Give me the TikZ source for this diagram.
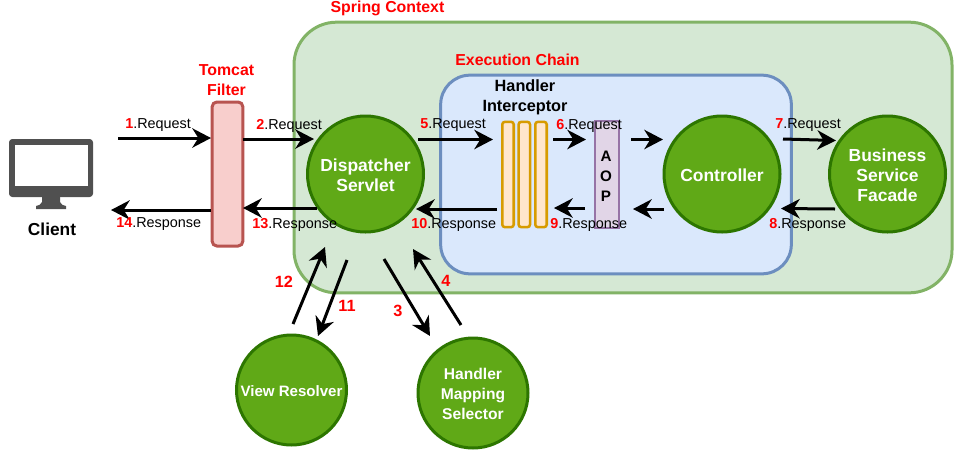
\documentclass[tikz,border=0pt]{standalone}
\usepackage{fontspec}
\setmainfont{Liberation Sans}
\usetikzlibrary{arrows.meta}
\definecolor{ctxfill}{HTML}{D5E8D4}\definecolor{ctxline}{HTML}{82B366}
\definecolor{chainfill}{HTML}{DAE8FC}\definecolor{chainline}{HTML}{6C8EBF}
\definecolor{filterfill}{HTML}{F8CECC}\definecolor{filterline}{HTML}{B85450}
\definecolor{barfill}{HTML}{FFE6CC}\definecolor{barline}{HTML}{D79B00}
\definecolor{aopfill}{HTML}{E1D5E7}\definecolor{aopline}{HTML}{9673A6}
\definecolor{circfill}{HTML}{60A917}\definecolor{circline}{HTML}{2D7600}
\definecolor{mon}{HTML}{505050}
\tikzset{
 x=0.75pt,y=-0.75pt,
 flow/.style={draw=black,line width=2.25pt,-{Stealth[length=14pt,width=14.5pt,inset=4.5pt]}},
 svc/.style={circle,draw=circline,fill=circfill,line width=2.25pt,minimum size=87pt,inner sep=0pt},
 svcs/.style={svc,minimum size=82.5pt},
 svct/.style={inner sep=0pt,align=center,text=white,yshift=-0.75pt,font=\fontsize{13.1}{15}\selectfont\bfseries},
 svcts/.style={svct,font=\fontsize{11.7}{15}\selectfont\bfseries},
 vbar/.style={draw=barline,fill=barfill,line width=1.9pt,rounded corners=2pt,minimum width=8.6pt,minimum height=79pt,inner sep=0pt},
 lbl/.style={inner sep=0pt,font=\fontsize{10.8}{12}\selectfont,text=black},
 num/.style={inner sep=0pt,font=\fontsize{12.2}{13}\selectfont\bfseries,text=red},
 head/.style={inner sep=0pt,align=center,font=\fontsize{11.9}{15}\selectfont\bfseries,text=red},
 blk/.style={inner sep=0pt,align=center,font=\fontsize{12.2}{15}\selectfont\bfseries,text=black},
}
\newcommand{\nm}[1]{\textcolor{red}{\bfseries #1}}
\begin{document}
\begin{tikzpicture}
\useasboundingbox (0,0) rectangle (972,458);
\fill[white] (0,0) rectangle (972,458);
% containers
\node[draw=ctxline,fill=ctxfill,line width=2.25pt,rounded corners=32pt,minimum width=493.5pt,minimum height=203pt,inner sep=0pt] (ctx) at (623,157.5) {};
\node[draw=chainline,fill=chainfill,line width=2.25pt,rounded corners=22pt,minimum width=263pt,minimum height=149pt,inner sep=0pt] (chain) at (616,174.5) {};
\node[head] (ctxt) at (387.5,8.5) {Spring Context};
\node[head] (chaint) at (517.5,60) {Execution Chain};
% filter
\node[draw=filterline,fill=filterfill,line width=2.25pt,rounded corners=3.5pt,minimum width=23pt,minimum height=108pt,inner sep=0pt] (filter) at (227.5,174) {};
\node[head] (filtert) at (226.5,80.5) {Tomcat\\Filter};
% client icon
\fill[mon,rounded corners=2.5pt] (9,139) rectangle (93,197);
\fill[white] (15,145) rectangle (88,186);
\fill[mon] (42,197) -- (60,197) -- (60,202) .. controls (61,205) and (63,205) .. (66,206) -- (66,209) -- (36,209) -- (36,206) .. controls (39,205) and (41,205) .. (42,202) -- cycle;
\node[blk,font=\fontsize{13}{15}\selectfont\bfseries] (client) at (52,229) {Client};
% services
\node[svc,label={[svct]center:{Dispatcher\\Servlet}}] (disp) at (365.5,174) {};
\node[svc,label={[svct]center:Controller}] (ctrl) at (722,174) {};
\node[svc,label={[svct]center:{Business\\Service\\Facade}}] (biz) at (887.5,174) {};
\node[svcs,label={[svcts,font=\fontsize{11.3}{15}\selectfont\bfseries]center:View Resolver}] (view) at (291.5,390) {};
\node[svcs,label={[svcts]center:{Handler\\Mapping\\Selector}}] (hms) at (473,393) {};
% interceptors
\node[vbar] (b1) at (508,174.5) {};
\node[vbar] (b2) at (524.3,174.5) {};
\node[vbar] (b3) at (541,174.5) {};
\node[blk] (hi) at (525,97) {Handler\\Interceptor};
\node[draw=aopline,fill=aopfill,line width=1.9pt,minimum width=18pt,minimum height=80pt,inner sep=0pt] (aop) at (607,174.5) {};
\node[inner sep=0pt,align=center,font=\fontsize{11.4}{15}\selectfont\bfseries] (aopt) at (606,176) {A\\O\\P};
% free ends
\foreach \n/\x/\y in {a1s/118/138,a1e/211/138,a2s/243/139,a2e/314/139,a14s/211/210,a14e/111/210,a13s/317/208,a13e/243/208,
 a5s/418/139.5,a5e/493/139.5,a6s/553/139.5,a6e/586/139.5,a6bs/631/139.5,a6be/663/139.5,
 a10s/497/209,a10e/416/209,a9s/585/208,a9e/554/208,a9bs/664/209,a9be/633/209,
 a7s/783/139,a7e/836/140.5,a8s/835/209,a8e/781/208.5,
 a12s/293/324,a12e/325/247,a11s/347/260,a11e/318/336,a3s/384/259,a3e/430/336,a4s/461/325,a4e/413/249}
 {\coordinate (\n) at (\x,\y);}
\foreach \s/\e in {a1s/a1e,a2s/a2e,a14s/a14e,a13s/a13e,a5s/a5e,a6s/a6e,a6bs/a6be,a10s/a10e,a9s/a9e,a9bs/a9be,a7s/a7e,a8s/a8e,a12s/a12e,a11s/a11e,a3s/a3e,a4s/a4e}
 {\draw[flow] (\s) -- (\e);}
% labels
\node[lbl,anchor=west] (l1) at (125,125.5) {\nm{1}.Request};
\node[lbl,anchor=west] (l2) at (256,125.5) {\nm{2}.Request};
\node[lbl,anchor=west] (l5) at (420,125.5) {\nm{5}.Request};
\node[lbl,anchor=west] (l6) at (556,125.5) {\nm{6}.Request};
\node[lbl,anchor=west] (l7) at (775,125.5) {\nm{7}.Request};
\node[lbl,anchor=west] (l14) at (116,224.5) {\nm{14}.Response};
\node[lbl,anchor=west] (l13) at (252,224.5) {\nm{13}.Response};
\node[lbl,anchor=west] (l10) at (411,224.5) {\nm{10}.Response};
\node[lbl,anchor=west] (l9) at (550,224.5) {\nm{9}.Response};
\node[lbl,anchor=west] (l8) at (769,224.5) {\nm{8}.Response};
\node[num] (n12) at (284,282) {12};
\node[num] (n11) at (347,306) {11};
\node[num] (n3) at (398,311) {3};
\node[num] (n4) at (446,281) {4};
\end{tikzpicture}
\end{document}
